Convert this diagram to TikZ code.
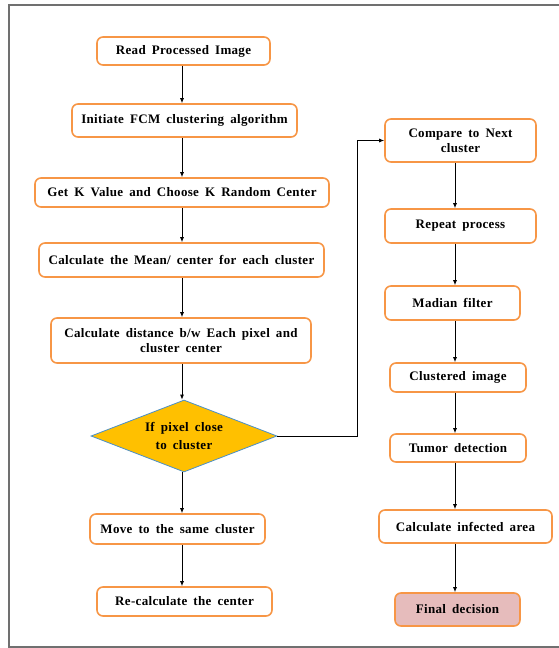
\documentclass[tikz,border=0pt]{standalone}
\usepackage{fontspec}
\setmainfont{Liberation Serif}[LetterSpace=2.5,WordSpace={1.7}]
\usetikzlibrary{shapes.geometric,arrows.meta}
\definecolor{boxorange}{HTML}{F79646}
\definecolor{dgold}{HTML}{FFC000}
\definecolor{dblue}{HTML}{4A8FC8}
\definecolor{finalpink}{HTML}{E6BCBC}
\definecolor{framegray}{HTML}{707070}
\tikzset{
  x=1pt, y=-1pt,
  box/.style={draw=boxorange, line width=1.6pt, rounded corners=6pt, fill=white,
    align=center, inner sep=1pt, font=\fontsize{13}{15}\selectfont\bfseries},
  decide/.style={diamond, draw=dblue, line width=0.8pt, fill=dgold, inner sep=0pt,
    align=center, font=\fontsize{13}{18}\selectfont\bfseries},
  arr/.style={draw=black, line width=0.8pt, -{Latex[length=5pt,width=4pt]}}
}
\begin{document}
\begin{tikzpicture}
\useasboundingbox (0,0) rectangle (559,648);
\draw[framegray, line width=1.6pt] (559,5) -- (9,5) -- (9,647) -- (559,647);
\coordinate (colL) at (182,0);
\coordinate (colR) at (455,0);
\coordinate (bend) at (357,0);
% left column
\node[box, minimum width=173pt, minimum height=28pt] (n1) at (183.5,51) {Read Processed Image};
\node[box, minimum width=225pt, minimum height=33pt] (n2) at (184.5,120.5) {Initiate FCM clustering algorithm};
\node[box, minimum width=294pt, minimum height=29pt] (n3) at (182,192.5) {Get K Value and Choose K Random Center};
\node[box, minimum width=285pt, minimum height=34pt] (n4) at (181.5,260) {Calculate the Mean/ center for each cluster};
\node[box, minimum width=260pt, minimum height=45pt] (n5) at (181,340.5) {Calculate distance b/w Each pixel and\\cluster center};
\node[decide, minimum width=186pt, minimum height=72pt, aspect=2.58] (d) at (184,436) {If pixel close\\to cluster};
\node[box, minimum width=175pt, minimum height=30pt] (n7) at (177.5,529) {Move to the same cluster};
\node[box, minimum width=175pt, minimum height=29pt] (n8) at (184.5,601.5) {Re-calculate the center};
% right column
\node[box, minimum width=151pt, minimum height=43pt] (r1) at (460.5,140.5) {Compare to Next\\cluster};
\node[box, minimum width=151pt, minimum height=34pt] (r2) at (460.5,226) {Repeat process};
\node[box, minimum width=135pt, minimum height=34pt] (r3) at (452.5,303) {Madian filter};
\node[box, minimum width=136pt, minimum height=29pt] (r4) at (458,377.5) {Clustered image};
\node[box, minimum width=136pt, minimum height=28pt] (r5) at (458,448) {Tumor detection};
\node[box, minimum width=173pt, minimum height=33pt] (r6) at (465.5,526.5) {Calculate infected area};
\node[box, fill=finalpink, minimum width=125pt, minimum height=33pt] (r7) at (457.5,609.5) {Final decision};
% left arrows
\draw[arr] (n1.south -| colL) -- (n2.north -| colL);
\draw[arr] (n2.south -| colL) -- (n3.north -| colL);
\draw[arr] (n3.south -| colL) -- (n4.north -| colL);
\draw[arr] (n4.south -| colL) -- (n5.north -| colL);
\draw[arr] (n5.south -| colL) -- (d.north -| colL);
\draw[arr] (d.south -| colL) -- (n7.north -| colL);
\draw[arr] (n7.south -| colL) -- (n8.north -| colL);
% connector to right column
\draw[arr] (d.east) -- (d.east -| bend) -- (r1.west -| bend) -- (r1.west);
% right arrows
\draw[arr] (r1.south -| colR) -- (r2.north -| colR);
\draw[arr] (r2.south -| colR) -- (r3.north -| colR);
\draw[arr] (r3.south -| colR) -- (r4.north -| colR);
\draw[arr] (r4.south -| colR) -- (r5.north -| colR);
\draw[arr] (r5.south -| colR) -- (r6.north -| colR);
\draw[arr] (r6.south -| colR) -- (r7.north -| colR);
\end{tikzpicture}
\end{document}
